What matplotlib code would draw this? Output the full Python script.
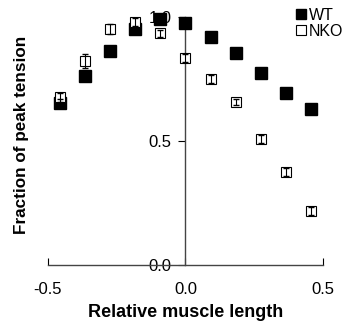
import numpy as np
import matplotlib.pyplot as plt
from matplotlib.lines import Line2D

plt.rcParams['font.family'] = ['Liberation Sans', 'DejaVu Sans']

length = [-0.455, -0.364, -0.273, -0.182, -0.091, 0.0, 0.091, 0.182, 0.273, 0.364, 0.455]
wt = [0.653, 0.762, 0.863, 0.952, 0.992, 0.976, 0.919, 0.855, 0.774, 0.694, 0.629]
wt_err = [0.015, 0.012, 0.01, 0.012, 0.01, 0.0, 0.008, 0.008, 0.008, 0.008, 0.018]
nko = [0.677, 0.823, 0.952, 0.980, 0.935, 0.835, 0.75, 0.657, 0.508, 0.375, 0.218]
nko_err = [0.018, 0.03, 0.02, 0.018, 0.015, 0.015, 0.015, 0.012, 0.015, 0.015, 0.015]

fig = plt.figure(figsize=(3.44, 3.24), dpi=100)
ax = fig.add_axes([0.1395, 0.182, 0.7994, 0.765])

# markers first, error bars drawn over them (they show inside the open squares)
ax.plot(length, wt, 's', mfc='black', mec='black', ms=8.5, clip_on=False, zorder=3)
ax.plot(length, nko, 's', mfc='white', mec='black', ms=7.5, mew=0.8, clip_on=False, zorder=4)
ax.errorbar(length, wt, yerr=wt_err, fmt='none', ecolor='black', elinewidth=0.8,
            capsize=2.5, clip_on=False, zorder=5)
ax.errorbar(length, nko, yerr=nko_err, fmt='none', ecolor='black', elinewidth=0.8,
            capsize=2.5, clip_on=False, zorder=5)

ax.set_xlim(-0.5, 0.5)
ax.set_ylim(0, 1.0)
ax.spines['left'].set_position(('data', 0))
ax.spines['right'].set_visible(False)
ax.spines['top'].set_visible(False)
for s in ['left', 'bottom']:
    ax.spines[s].set_color('#444444')
    ax.spines[s].set_linewidth(1.0)

ax.set_xticks([-0.5, 0.0, 0.5])
ax.set_xticklabels(['-0.5', '0.0', '0.5'])
ax.set_yticks([0.0, 0.5, 1.0])
ax.set_yticklabels(['0.0', '0.5', '1.0'])
ax.tick_params(axis='x', direction='in', length=5, labelsize=12, pad=12)
ax.tick_params(axis='y', direction='out', length=5, labelsize=12, pad=5)

ax.set_xlabel('Relative muscle length', fontsize=13, fontweight='bold', labelpad=5)
fig.text(0.062, 0.583, 'Fraction of peak tension', rotation=90, fontsize=12.3,
         fontweight='bold', ha='center', va='center')

handles = [Line2D([], [], ls='none', marker='s', mfc='black', mec='black', ms=7),
           Line2D([], [], ls='none', marker='s', mfc='white', mec='black', ms=7, mew=0.8)]
fig.legend(handles, ['WT', 'NKO'], loc='upper right', bbox_to_anchor=(1.02, 1.0),
           frameon=False, fontsize=11.5, handletextpad=0.0, labelspacing=0.05,
           handlelength=1.0, borderaxespad=0.1)

fig.savefig('out.png', dpi=100)
